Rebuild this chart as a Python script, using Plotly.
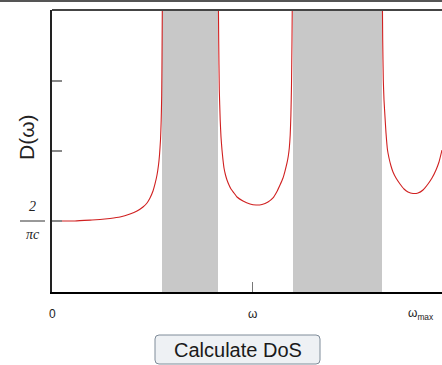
import plotly.graph_objects as go

# Frequency axis in units of omega; D(omega) axis in units of 2/(pi c)
band1_w = [0.0, 0.115, 0.2, 0.24, 0.29, 0.34, 0.39, 0.425, 0.455, 0.475, 0.49, 0.505,
           0.515, 0.525, 0.5325, 0.5375, 0.5425, 0.546, 0.5485, 0.55, 0.5515, 0.552]
band1_d = [1.0, 1.0, 1.014, 1.021, 1.036, 1.057, 1.1, 1.143, 1.2, 1.257, 1.329, 1.429,
           1.529, 1.657, 1.8, 1.943, 2.157, 2.443, 2.8, 3.3, 4.014, 4.3]

band2_w = [0.8315, 0.8335, 0.8365, 0.841, 0.845, 0.85, 0.855, 0.86, 0.8675, 0.875, 0.885,
           0.895, 0.91, 0.925, 0.955, 0.99, 1.02, 1.05, 1.08, 1.105, 1.1235, 1.14, 1.155,
           1.165, 1.175, 1.1815, 1.1865, 1.191, 1.1945, 1.1975, 1.2, 1.202]
band2_d = [4.3, 3.586, 2.871, 2.443, 2.2, 2.014, 1.871, 1.757, 1.657, 1.586, 1.514,
           1.457, 1.4, 1.343, 1.286, 1.243, 1.229, 1.236, 1.271, 1.329, 1.414, 1.514, 1.614,
           1.714, 1.829, 1.929, 2.043, 2.229, 2.514, 2.943, 3.586, 4.3]

band3_w = [1.6515, 1.6535, 1.6565, 1.66, 1.665, 1.67, 1.6775, 1.685, 1.695, 1.705, 1.72,
           1.74, 1.76, 1.78, 1.805, 1.83, 1.855, 1.88, 1.9, 1.92, 1.935, 1.95]
band3_d = [4.3, 3.586, 3.014, 2.729, 2.486, 2.257, 2.014, 1.9, 1.786, 1.7, 1.614,
           1.529, 1.457, 1.414, 1.393, 1.4, 1.443, 1.529, 1.614, 1.729, 1.843, 2.014]

# Forbidden frequency gaps
gap_lo = [0.55, 1.205]
gap_hi = [0.83, 1.65]

x_tick_pos = [0.0, 1.0, 1.77]
x_tick_text = ["0", "ω", "ω<sub>max</sub>"]
x_tick_anchor = ["center", "center", "left"]

W, H = 442, 365
ML, MT, MB = 52, 10, 73
PW, PH = W - ML, H - MT - MB


def px_x(p):
    return (p - ML) / PW


def px_y(p):
    return (H - MB - p) / PH


fig = go.Figure()
for w, d in [(band1_w, band1_d), (band2_w, band2_d), (band3_w, band3_d)]:
    fig.add_trace(go.Scatter(x=w, y=d, mode="lines",
                             line=dict(color="#d02020", width=1.1, shape="spline", smoothing=0.4),
                             hoverinfo="skip", showlegend=False))

shapes = []
for lo, hi in zip(gap_lo, gap_hi):
    shapes.append(dict(type="rect", xref="x", yref="paper", x0=lo, x1=hi, y0=0, y1=1,
                       fillcolor="#c8c8c8", line=dict(width=0), layer="below"))
# frame line along the top of the plot and page border
shapes.append(dict(type="line", xref="paper", yref="paper", x0=0, x1=1.05, y0=1, y1=1,
                   line=dict(color="#444444", width=2)))
shapes.append(dict(type="line", xref="paper", yref="paper", x0=px_x(-5), x1=1.05,
                   y0=px_y(1), y1=px_y(1), line=dict(color="#555555", width=2)))
# fraction bar of the 2/(pi c) label
shapes.append(dict(type="line", xref="paper", yref="y", x0=px_x(20), x1=px_x(45), y0=1, y1=1,
                   line=dict(color="#333333", width=1)))
# button outline with rounded corners
bx0, bx1, by0, by1, r = 155, 320, 335, 364, 4
path = (f"M {px_x(bx0 + r)} {px_y(by0)} L {px_x(bx1 - r)} {px_y(by0)} "
        f"Q {px_x(bx1)} {px_y(by0)} {px_x(bx1)} {px_y(by0 + r)} "
        f"L {px_x(bx1)} {px_y(by1 - r)} Q {px_x(bx1)} {px_y(by1)} {px_x(bx1 - r)} {px_y(by1)} "
        f"L {px_x(bx0 + r)} {px_y(by1)} Q {px_x(bx0)} {px_y(by1)} {px_x(bx0)} {px_y(by1 - r)} "
        f"L {px_x(bx0)} {px_y(by0 + r)} Q {px_x(bx0)} {px_y(by0)} {px_x(bx0 + r)} {px_y(by0)} Z")
shapes.append(dict(type="path", xref="paper", yref="paper", path=path,
                   fillcolor="#eef1f4", line=dict(color="#7f8c99", width=1)))

annotations = []
for xv, txt, anc in zip(x_tick_pos, x_tick_text, x_tick_anchor):
    annotations.append(dict(x=xv, xref="x", y=px_y(314), yref="paper", text=txt,
                            showarrow=False, xanchor=anc, yanchor="middle",
                            font=dict(family="Liberation Sans, Arial", size=12, color="#222222")))
annotations.append(dict(x=px_x(32.5), xref="paper", y=px_y(206), yref="paper", text="<i>2</i>",
                        showarrow=False, xanchor="center", yanchor="middle",
                        font=dict(family="Liberation Serif, serif", size=14, color="#222222")))
annotations.append(dict(x=px_x(32.5), xref="paper", y=px_y(234), yref="paper", text="<i>πc</i>",
                        showarrow=False, xanchor="center", yanchor="middle",
                        font=dict(family="Liberation Serif, serif", size=14, color="#222222")))
annotations.append(dict(x=px_x(26), xref="paper", y=px_y(137), yref="paper", text="D(ω)",
                        textangle=-90, showarrow=False, xanchor="center", yanchor="middle",
                        font=dict(family="Liberation Sans, Arial", size=21, color="#222222")))
annotations.append(dict(x=px_x(237.5), xref="paper", y=px_y(350), yref="paper", text="Calculate DoS",
                        showarrow=False, xanchor="center", yanchor="middle",
                        font=dict(family="Liberation Sans, Arial", size=20, color="#1a1a1a")))

fig.update_layout(
    width=W, height=H,
    margin=dict(l=ML, r=0, t=MT, b=MB, pad=0),
    paper_bgcolor="white", plot_bgcolor="white",
    shapes=shapes, annotations=annotations,
    xaxis=dict(range=[0, PW / 200], showgrid=False, zeroline=False, showline=True,
               linecolor="black", linewidth=2, ticks="inside", ticklen=10, tickwidth=1,
               tickcolor="#777777", tickvals=[1.0], showticklabels=False),
    yaxis=dict(range=[-0.0143, 4.0143], showgrid=False, zeroline=False, showline=True,
               linecolor="#222222", linewidth=2, ticks="inside", ticklen=10, tickwidth=2,
               tickcolor="#888888", tickvals=[1, 2, 3], showticklabels=False),
)

fig.write_html("out.html")
